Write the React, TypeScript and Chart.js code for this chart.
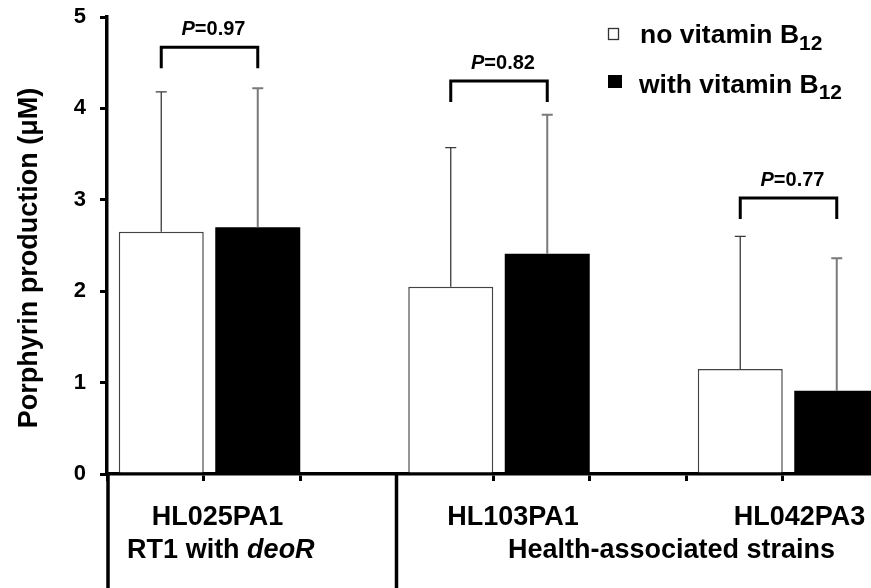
import React, { useEffect, useRef } from 'react';
import { Chart, registerables } from 'chart.js';

Chart.register(...registerables);

// ---- data ----
const strains = ['HL025PA1', 'HL103PA1', 'HL042PA3'];
const seriesNames = ['no vitamin B', 'with vitamin B'];
const seriesSub = '12';
const noB12 = [2.65, 2.05, 1.15];
const noB12Err = [1.53, 1.52, 1.45];
const withB12 = [2.7, 2.41, 0.91];
const withB12Err = [1.52, 1.52, 1.45];
const pValues = ['0.97', '0.82', '0.77'];
const bracketLevels = [4.67, 4.3, 3.02];
const yTicks = [0, 1, 2, 3, 4, 5];
const yTitle = 'Porphyrin production (\u03bcM)';
const groupLabels = [
  [{ text: 'RT1 with ' }, { text: 'deoR', italic: true }],
  [{ text: 'Health-associated strains' }],
];

// ---- layout / style constants ----
const FONT = "'Liberation Sans', Arial, sans-serif";
const CANVAS_W = 890;
const CANVAS_H = 588;
const AXIS_LEFT = 107;
const PLOT_RIGHT = 879;
const PLOT_TOP = 17;
const PLOT_BOTTOM = 474;
const SHIFT_FRAC = 6 / 96.5; // bar offset within slot
const WIDTH_FRAC = 85 / 96.5; // bar width within slot
const strainLabelPos = [0.645, 3.707, 6.676];
const groupLabelPos = [0.68, 5.35];
const dividerAfterSlot = 2;

// build slot table: for each strain a "no" slot, a "with" slot, then a gap
const slotLabels: string[] = [];
const noSlots: (number | null)[] = [];
const withSlots: (number | null)[] = [];
const noErrSlots: (number | null)[] = [];
const withErrSlots: (number | null)[] = [];
strains.forEach((s, i) => {
  slotLabels.push(s + ' no', s + ' with');
  noSlots.push(noB12[i], null);
  withSlots.push(null, withB12[i]);
  noErrSlots.push(noB12Err[i], null);
  withErrSlots.push(null, withB12Err[i]);
  if (i < strains.length - 1) {
    slotLabels.push('');
    noSlots.push(null);
    withSlots.push(null);
    noErrSlots.push(null);
    withErrSlots.push(null);
  }
});

type Part = { text: string; italic?: boolean; size?: number; dy?: number };

function fontOf(p: Part, size: number) {
  return `${p.italic ? 'italic ' : ''}bold ${p.size ?? size}px ${FONT}`;
}

function drawRich(ctx: CanvasRenderingContext2D, parts: Part[], x: number, baseline: number, size: number, align: 'center' | 'left') {
  const widths = parts.map((p) => {
    ctx.font = fontOf(p, size);
    return ctx.measureText(p.text).width;
  });
  const total = widths.reduce((a, b) => a + b, 0);
  let cx = align === 'center' ? x - total / 2 : x;
  ctx.textAlign = 'left';
  ctx.textBaseline = 'alphabetic';
  ctx.fillStyle = '#000';
  parts.forEach((p, i) => {
    ctx.font = fontOf(p, size);
    ctx.fillText(p.text, cx, baseline + (p.dy ?? 0));
    cx += widths[i];
  });
}

const overlay = {
  id: 'overlay',
  afterDatasetsDraw(chart: any) {
    const ctx: CanvasRenderingContext2D = chart.ctx;
    const y = chart.scales.y;
    const errs: Record<number, (number | null)[]> = { 1: noErrSlots, 2: withErrSlots };
    const styles: Record<number, [string, number]> = { 1: ['#3a3a3a', 1.3], 2: ['#7a7a7a', 2] };
    ctx.save();
    [1, 2].forEach((di) => {
      const meta = chart.getDatasetMeta(di);
      const data = chart.data.datasets[di].data;
      meta.data.forEach((el: any, i: number) => {
        const v = data[i];
        const e = errs[di][i];
        if (v == null || e == null) return;
        const yt = y.getPixelForValue(v + e);
        ctx.strokeStyle = styles[di][0];
        ctx.lineWidth = styles[di][1];
        ctx.beginPath();
        ctx.moveTo(el.x, el.y);
        ctx.lineTo(el.x, yt);
        ctx.moveTo(el.x - 5.5, yt);
        ctx.lineTo(el.x + 5.5, yt);
        ctx.stroke();
      });
    });
    ctx.restore();
  },
  afterDraw(chart: any) {
    const ctx: CanvasRenderingContext2D = chart.ctx;
    const x = chart.scales.x;
    const y = chart.scales.y;
    const area = chart.chartArea;
    ctx.save();
    // brackets + P values
    const m1 = chart.getDatasetMeta(1);
    const m2 = chart.getDatasetMeta(2);
    strains.forEach((_, s) => {
      const xa = m1.data[slotLabels.indexOf(strains[s] + ' no')].x;
      const xb = m2.data[slotLabels.indexOf(strains[s] + ' with')].x;
      const yTop = y.getPixelForValue(bracketLevels[s]);
      const yLeg = yTop + 21;
      ctx.strokeStyle = '#000';
      ctx.lineWidth = 3;
      ctx.lineJoin = 'miter';
      ctx.beginPath();
      ctx.moveTo(xa, yLeg);
      ctx.lineTo(xa, yTop);
      ctx.lineTo(xb, yTop);
      ctx.lineTo(xb, yLeg);
      ctx.stroke();
      drawRich(ctx, [{ text: 'P', italic: true }, { text: '=' + pValues[s] }], (xa + xb) / 2 + 4, yTop - 12, 20, 'center');
    });
    // lower axis extensions / divider
    ctx.strokeStyle = '#000';
    ctx.lineWidth = 3.5;
    const xd = (x.getPixelForValue(dividerAfterSlot) + x.getPixelForValue(dividerAfterSlot + 1)) / 2;
    ctx.beginPath();
    ctx.moveTo(area.left + 1, area.bottom);
    ctx.lineTo(area.left + 1, chart.height);
    ctx.moveTo(xd, area.bottom);
    ctx.lineTo(xd, chart.height);
    ctx.stroke();
    // category labels
    strains.forEach((s, i) => {
      drawRich(ctx, [{ text: s }], x.getPixelForValue(strainLabelPos[i]), 525, 27, 'center');
    });
    groupLabels.forEach((parts, i) => {
      drawRich(ctx, parts, x.getPixelForValue(groupLabelPos[i]), 558, 27, 'center');
    });
    // y title
    ctx.save();
    ctx.translate(37, 258);
    ctx.rotate(-Math.PI / 2);
    ctx.font = `bold 27px ${FONT}`;
    ctx.textAlign = 'center';
    ctx.textBaseline = 'alphabetic';
    ctx.fillStyle = '#000';
    ctx.fillText(yTitle, 0, 0);
    ctx.restore();
    // legend
    ctx.lineWidth = 1.3;
    ctx.strokeStyle = '#333';
    ctx.fillStyle = '#fff';
    ctx.fillRect(608.5, 28.5, 10, 11);
    ctx.strokeRect(608.5, 28.5, 10, 11);
    ctx.fillStyle = '#000';
    ctx.fillRect(608, 75, 14, 13);
    drawRich(ctx, [{ text: seriesNames[0] }, { text: seriesSub, size: 21, dy: 7 }], 640, 43, 26.5, 'left');
    drawRich(ctx, [{ text: seriesNames[1] }, { text: seriesSub, size: 21, dy: 6 }], 639, 93, 26.5, 'left');
    ctx.restore();
  },
};

export default function App() {
  const ref = useRef<HTMLCanvasElement | null>(null);
  useEffect(() => {
    if (!ref.current) return;
    const catPct = 4 * SHIFT_FRAC;
    const barPct = (2 * WIDTH_FRAC) / catPct;
    const common = { categoryPercentage: catPct, barPercentage: barPct };
    const chart = new Chart(ref.current, {
      type: 'bar',
      data: {
        labels: slotLabels,
        datasets: [
          { label: 'spacer', data: slotLabels.map(() => null), stack: 'pad', ...common },
          {
            label: seriesNames[0] + seriesSub,
            data: noSlots,
            backgroundColor: '#ffffff',
            borderColor: '#444444',
            borderWidth: 1.5,
            stack: 'main',
            ...common,
          },
          {
            label: seriesNames[1] + seriesSub,
            data: withSlots,
            backgroundColor: '#000000',
            borderColor: '#000000',
            borderWidth: 0,
            stack: 'main',
            ...common,
          },
        ] as any,
      },
      options: {
        animation: false,
        responsive: false,
        events: [],
        layout: { padding: { left: 0, right: CANVAS_W - PLOT_RIGHT, top: PLOT_TOP, bottom: 0 } },
        plugins: { legend: { display: false }, tooltip: { enabled: false } },
        scales: {
          x: {
            type: 'category',
            offset: true,
            ticks: { display: false },
            grid: { offset: true, drawOnChartArea: false, drawTicks: true, tickLength: 7, color: '#000', lineWidth: 3 },
            border: { display: true, color: '#000', width: 3.5 },
            afterFit: (s: any) => {
              s.height = CANVAS_H - PLOT_BOTTOM;
              s.paddingLeft = 0;
              s.paddingRight = 0;
            },
          },
          y: {
            type: 'linear',
            min: 0,
            max: 5,
            stacked: false,
            afterBuildTicks: (s: any) => {
              s.ticks = yTicks.map((v) => ({ value: v }));
            },
            ticks: { color: '#000', padding: 14, font: { family: FONT, size: 22, weight: 'bold' } },
            grid: { drawOnChartArea: false, drawTicks: true, tickLength: 7, color: '#000', lineWidth: 3 },
            border: { display: true, color: '#000', width: 3.5 },
            afterFit: (s: any) => {
              s.width = AXIS_LEFT;
              s.paddingTop = 0;
              s.paddingBottom = 0;
            },
          },
        },
      } as any,
      plugins: [overlay],
    });
    return () => chart.destroy();
  }, []);
  return (
    <div style={{ position: 'fixed', left: 0, top: 0, width: 871, height: 588, overflow: 'hidden', background: '#fff' }}>
      <canvas ref={ref} width={CANVAS_W} height={CANVAS_H} style={{ display: 'block' }} />
    </div>
  );
}
